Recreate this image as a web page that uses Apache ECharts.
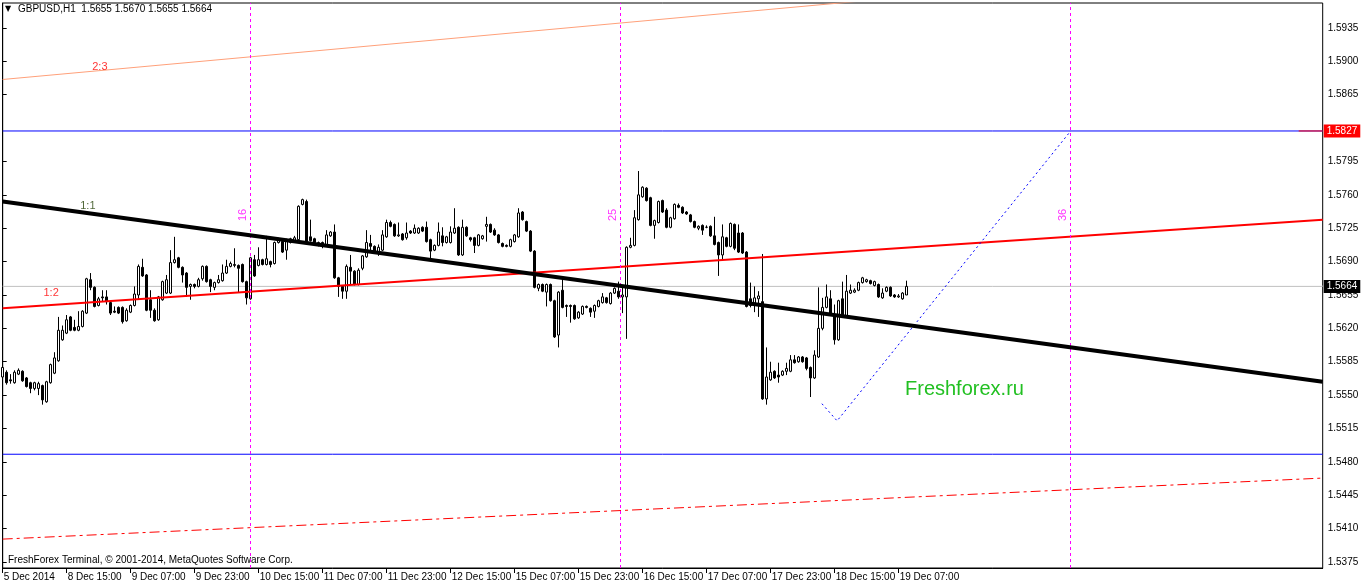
<!DOCTYPE html>
<html><head><meta charset="utf-8">
<script src="https://cdn.jsdelivr.net/npm/echarts@6/dist/echarts.min.js"></script>
<style>html,body{margin:0;padding:0;background:#fff;}#c{width:1362px;height:586px;}</style>
</head><body><div id="c"></div>
<script>
// ---------- DATA ----------
const symbolName = 'GBPUSD,H1';
const firstBar = '2014-12-05T23:00:00Z';
const totalSlots = 331;   // bars + empty future slots shown on the chart
// hourly candles [open, high, low, close]
const ohlc = [
[1.5569,1.5588,1.5568,1.5579],[1.5574,1.5576,1.5561,1.5563],[1.5566,1.5572,1.5562,1.5565],[1.5563,1.5576,1.5562,1.5574],
[1.5572,1.5578,1.5571,1.5576],[1.5575,1.5576,1.5564,1.5565],[1.5568,1.5569,1.5558,1.5559],[1.5563,1.5564,1.5552,1.5557],
[1.5557,1.5564,1.5555,1.5563],[1.5557,1.5564,1.5550,1.5562],[1.5560,1.5561,1.5540,1.5545],[1.5543,1.5565,1.5542,1.5564],
[1.5563,1.5583,1.5562,1.5582],[1.5573,1.5595,1.5572,1.5589],[1.5586,1.5632,1.5585,1.5618],[1.5608,1.5623,1.5607,1.5618],
[1.5615,1.5634,1.5614,1.5629],[1.5632,1.5633,1.5617,1.5618],[1.5621,1.5629,1.5617,1.5618],[1.5618,1.5638,1.5617,1.5622],
[1.5622,1.5639,1.5621,1.5638],[1.5636,1.5673,1.5635,1.5672],[1.5671,1.5678,1.5660,1.5663],[1.5663,1.5664,1.5642,1.5643],
[1.5644,1.5653,1.5643,1.5651],[1.5653,1.5660,1.5648,1.5652],[1.5653,1.5660,1.5645,1.5648],[1.5647,1.5649,1.5634,1.5636],
[1.5638,1.5643,1.5636,1.5637],[1.5642,1.5643,1.5635,1.5636],[1.5642,1.5643,1.5625,1.5627],[1.5628,1.5641,1.5627,1.5639],
[1.5637,1.5645,1.5636,1.5644],[1.5644,1.5664,1.5643,1.5656],[1.5655,1.5687,1.5650,1.5685],[1.5684,1.5693,1.5674,1.5675],
[1.5676,1.5677,1.5638,1.5639],[1.5650,1.5660,1.5631,1.5639],[1.5639,1.5641,1.5627,1.5628],[1.5629,1.5654,1.5628,1.5653],
[1.5650,1.5670,1.5649,1.5669],[1.5657,1.5676,1.5656,1.5671],[1.5657,1.5702,1.5656,1.5689],[1.5689,1.5716,1.5688,1.5692],
[1.5694,1.5695,1.5683,1.5684],[1.5684,1.5685,1.5668,1.5676],[1.5678,1.5679,1.5653,1.5663],[1.5664,1.5667,1.5650,1.5666],
[1.5666,1.5667,1.5662,1.5664],[1.5664,1.5673,1.5663,1.5671],[1.5672,1.5686,1.5670,1.5685],[1.5685,1.5686,1.5668,1.5669],
[1.5671,1.5672,1.5658,1.5664],[1.5663,1.5669,1.5660,1.5668],[1.5668,1.5676,1.5667,1.5671],[1.5670,1.5687,1.5669,1.5678],
[1.5678,1.5692,1.5677,1.5685],[1.5685,1.5690,1.5684,1.5688],[1.5686,1.5704,1.5684,1.5687],[1.5686,1.5687,1.5658,1.5683],
[1.5687,1.5688,1.5668,1.5669],[1.5669,1.5670,1.5645,1.5652],[1.5651,1.5695,1.5650,1.5694],[1.5692,1.5697,1.5674,1.5675],
[1.5686,1.5705,1.5685,1.5692],[1.5692,1.5693,1.5686,1.5687],[1.5687,1.5717,1.5686,1.5693],[1.5690,1.5691,1.5684,1.5687],
[1.5688,1.5711,1.5687,1.5710],[1.5710,1.5715,1.5709,1.5713],[1.5711,1.5713,1.5699,1.5700],[1.5702,1.5714,1.5692,1.5713],
[1.5710,1.5715,1.5709,1.5714],[1.5712,1.5717,1.5711,1.5715],[1.5713,1.5749,1.5712,1.5748],[1.5750,1.5756,1.5749,1.5755],
[1.5753,1.5755,1.5710,1.5711],[1.5716,1.5734,1.5711,1.5712],[1.5714,1.5715,1.5709,1.5710],[1.5707,1.5711,1.5706,1.5710],
[1.5710,1.5711,1.5704,1.5706],[1.5707,1.5723,1.5706,1.5718],[1.5717,1.5722,1.5716,1.5721],[1.5721,1.5729,1.5672,1.5673],
[1.5673,1.5674,1.5653,1.5664],[1.5664,1.5665,1.5651,1.5659],[1.5659,1.5687,1.5651,1.5685],[1.5684,1.5697,1.5666,1.5680],
[1.5680,1.5681,1.5665,1.5666],[1.5666,1.5683,1.5665,1.5681],[1.5683,1.5697,1.5681,1.5696],[1.5695,1.5723,1.5694,1.5710],
[1.5709,1.5718,1.5700,1.5706],[1.5706,1.5707,1.5699,1.5700],[1.5699,1.5708,1.5696,1.5705],[1.5702,1.5723,1.5701,1.5718],
[1.5716,1.5734,1.5715,1.5731],[1.5731,1.5733,1.5726,1.5727],[1.5729,1.5730,1.5716,1.5717],[1.5717,1.5731,1.5716,1.5718],
[1.5719,1.5720,1.5712,1.5713],[1.5715,1.5731,1.5713,1.5720],[1.5722,1.5723,1.5719,1.5720],[1.5720,1.5729,1.5719,1.5725],
[1.5720,1.5726,1.5719,1.5725],[1.5726,1.5727,1.5721,1.5722],[1.5726,1.5732,1.5710,1.5711],[1.5713,1.5714,1.5693,1.5701],
[1.5702,1.5708,1.5701,1.5707],[1.5707,1.5731,1.5706,1.5721],[1.5717,1.5726,1.5706,1.5710],[1.5710,1.5717,1.5709,1.5716],
[1.5710,1.5727,1.5709,1.5721],[1.5720,1.5746,1.5719,1.5725],[1.5726,1.5727,1.5696,1.5697],[1.5697,1.5734,1.5696,1.5726],
[1.5726,1.5727,1.5716,1.5717],[1.5715,1.5716,1.5711,1.5713],[1.5715,1.5716,1.5699,1.5707],[1.5707,1.5719,1.5706,1.5718],
[1.5714,1.5718,1.5713,1.5717],[1.5727,1.5737,1.5711,1.5729],[1.5729,1.5730,1.5720,1.5721],[1.5723,1.5725,1.5717,1.5718],
[1.5718,1.5719,1.5709,1.5710],[1.5709,1.5710,1.5705,1.5706],[1.5707,1.5708,1.5705,1.5706],[1.5706,1.5714,1.5705,1.5713],
[1.5711,1.5719,1.5710,1.5718],[1.5716,1.5746,1.5715,1.5741],[1.5742,1.5743,1.5733,1.5734],[1.5732,1.5733,1.5721,1.5722],
[1.5722,1.5723,1.5700,1.5701],[1.5701,1.5702,1.5662,1.5663],[1.5662,1.5667,1.5659,1.5666],[1.5666,1.5667,1.5658,1.5659],
[1.5658,1.5667,1.5643,1.5666],[1.5666,1.5667,1.5648,1.5649],[1.5649,1.5650,1.5610,1.5611],[1.5613,1.5659,1.5600,1.5658],
[1.5660,1.5673,1.5641,1.5642],[1.5644,1.5645,1.5632,1.5643],[1.5644,1.5645,1.5626,1.5643],[1.5644,1.5645,1.5629,1.5630],
[1.5631,1.5638,1.5630,1.5637],[1.5635,1.5644,1.5634,1.5643],[1.5643,1.5644,1.5641,1.5642],[1.5641,1.5642,1.5632,1.5637],
[1.5638,1.5645,1.5631,1.5644],[1.5643,1.5650,1.5642,1.5649],[1.5647,1.5657,1.5646,1.5653],[1.5652,1.5653,1.5646,1.5647],
[1.5646,1.5658,1.5645,1.5657],[1.5657,1.5663,1.5656,1.5662],[1.5659,1.5669,1.5651,1.5653],[1.5653,1.5664,1.5636,1.5655],
[1.5653,1.5706,1.5609,1.5705],[1.5705,1.5715,1.5704,1.5707],[1.5707,1.5744,1.5706,1.5736],[1.5734,1.5785,1.5733,1.5760],
[1.5758,1.5769,1.5757,1.5768],[1.5767,1.5768,1.5753,1.5754],[1.5757,1.5758,1.5727,1.5728],[1.5728,1.5734,1.5714,1.5733],
[1.5731,1.5754,1.5730,1.5753],[1.5754,1.5755,1.5741,1.5742],[1.5744,1.5746,1.5725,1.5726],[1.5726,1.5737,1.5725,1.5736],
[1.5735,1.5751,1.5734,1.5750],[1.5749,1.5751,1.5746,1.5747],[1.5747,1.5748,1.5740,1.5741],[1.5742,1.5743,1.5739,1.5740],
[1.5739,1.5740,1.5731,1.5732],[1.5732,1.5733,1.5725,1.5726],[1.5725,1.5728,1.5723,1.5727],[1.5728,1.5729,1.5718,1.5723],
[1.5726,1.5728,1.5725,1.5726],[1.5727,1.5728,1.5716,1.5717],[1.5717,1.5737,1.5707,1.5708],[1.5710,1.5711,1.5675,1.5697],
[1.5697,1.5729,1.5692,1.5716],[1.5715,1.5716,1.5705,1.5706],[1.5706,1.5731,1.5705,1.5730],[1.5729,1.5730,1.5702,1.5704],
[1.5720,1.5729,1.5699,1.5700],[1.5720,1.5721,1.5698,1.5699],[1.5700,1.5701,1.5642,1.5643],[1.5651,1.5668,1.5642,1.5644],
[1.5645,1.5664,1.5637,1.5652],[1.5651,1.5659,1.5632,1.5654],[1.5648,1.5698,1.5545,1.5546],[1.5546,1.5600,1.5540,1.5569],
[1.5566,1.5585,1.5565,1.5574],[1.5575,1.5576,1.5567,1.5568],[1.5571,1.5584,1.5563,1.5569],[1.5571,1.5576,1.5570,1.5575],
[1.5575,1.5584,1.5571,1.5578],[1.5575,1.5592,1.5574,1.5587],[1.5587,1.5592,1.5583,1.5584],[1.5585,1.5591,1.5584,1.5590],
[1.5590,1.5591,1.5584,1.5585],[1.5589,1.5590,1.5576,1.5578],[1.5579,1.5580,1.5548,1.5568],[1.5568,1.5597,1.5567,1.5592],
[1.5590,1.5663,1.5589,1.5620],[1.5620,1.5652,1.5618,1.5642],[1.5642,1.5666,1.5641,1.5653],[1.5651,1.5660,1.5633,1.5634],
[1.5634,1.5645,1.5603,1.5608],[1.5608,1.5650,1.5607,1.5649],[1.5651,1.5669,1.5631,1.5632],[1.5632,1.5676,1.5631,1.5659],
[1.5657,1.5666,1.5656,1.5660],[1.5658,1.5662,1.5657,1.5660],[1.5660,1.5669,1.5659,1.5668],[1.5668,1.5674,1.5667,1.5673],
[1.5669,1.5672,1.5668,1.5671],[1.5670,1.5671,1.5666,1.5667],[1.5665,1.5670,1.5664,1.5669],[1.5666,1.5667,1.5652,1.5653],
[1.5652,1.5662,1.5651,1.5657],[1.5659,1.5664,1.5658,1.5663],[1.5663,1.5664,1.5653,1.5654],[1.5655,1.5656,1.5652,1.5653],
[1.5653,1.5656,1.5652,1.5654],[1.5651,1.5658,1.5650,1.5657],[1.5655,1.5670,1.5655,1.5664]
];
const priceTicks = [1.5375,1.5410,1.5445,1.5480,1.5515,1.5550,1.5585,1.5620,1.5655,1.5690,1.5725,1.5760,1.5795,1.5865,1.5900,1.5935];
const priceMin = 1.53687, priceMax = 1.59612;
const bidPrice = 1.5664;
const resistance = 1.5827;
const resistanceMarkFrom = 324;   // bar slot where the red price-marker segment begins
const support = 1.5488;
// trend lines: [bar index, price]
const fan11 = [[0, 1.5753], [330, 1.5564]];
const fan12 = [[0, 1.5641], [330, 1.5734]];
const fan23 = [[0, 1.5881], [240, 1.5973]];
const channelLow = [[0, 1.5399], [330, 1.5463]];
const projection = [[204.8, 1.5541], [208.6, 1.5523], [267, 1.5827]];
const cycleLines = [[62, '16'], [154.5, '25'], [267, '36']];
const cycleLabelPrice = 1.5739;
const fanLabels = [['2:3', 24.3, 1.5894], ['1:1', 21.3, 1.5748], ['1:2', 12.1, 1.5657]];

// ---------- BUILD ----------
const MON = ['Jan','Feb','Mar','Apr','May','Jun','Jul','Aug','Sep','Oct','Nov','Dec'];
const times = [];
{
  let t = Date.parse(firstBar);
  while (times.length < totalSlots) {
    const d = new Date(t);
    const wd = d.getUTCDay();
    if (wd !== 0 && wd !== 6) {
      const hh = String(d.getUTCHours()).padStart(2, '0');
      times.push(times.length === 0 ? `${d.getUTCDate()} ${MON[d.getUTCMonth()]} ${d.getUTCFullYear()}`
                                    : `${d.getUTCDate()} ${MON[d.getUTCMonth()]} ${hh}:00`);
    }
    t += 3600000;
  }
}
const lastBar = ohlc.length - 1;
const lastSlot = totalSlots - 1;
const showTick = (i) => i % 16 === 0 && i <= lastBar;
const last = ohlc[lastBar];
const font = 'Liberation Sans';
const fanColors = {'2:3': '#ff0000', '1:1': '#1f3d00', '1:2': '#ff0000'};
const hLine = (price, from, color, z, labelBg) => ({
  type: 'line', xAxisIndex: 1, z, silent: true, symbol: 'none',
  data: [[from, price], [lastSlot, price]],
  lineStyle: {color, width: 1},
  endLabel: labelBg ? {show: true, formatter: price.toFixed(4), color: '#fff', backgroundColor: labelBg,
    padding: [2, 3, 1, 3], fontSize: 10, fontFamily: font, distance: 1} : {show: false}
});

const chart = echarts.init(document.getElementById('c'), null, {renderer: 'canvas'});
chart.setOption({
  animation: false,
  backgroundColor: '#ffffff',
  grid: {left: 2.7, right: 39.3, top: 3, bottom: 18, show: true, borderColor: '#000', borderWidth: 1, backgroundColor: '#fff'},
  xAxis: [{
    type: 'category', data: times, boundaryGap: false,
    axisLine: {show: true, lineStyle: {color: '#000', width: 1}},
    axisTick: {show: true, interval: showTick, length: 5, lineStyle: {color: '#000'}},
    axisLabel: {interval: showTick, align: 'left', margin: 4, padding: [0, 0, 0, 1], color: '#000', fontSize: 10, fontFamily: font},
    splitLine: {show: false}
  }, {
    type: 'value', min: 0, max: lastSlot, show: false
  }],
  yAxis: {
    type: 'value', position: 'right', min: priceMin, max: priceMax,
    axisLine: {show: true, lineStyle: {color: '#000'}},
    axisTick: {show: true, customValues: priceTicks, length: 4, lineStyle: {color: '#000'}},
    axisLabel: {customValues: priceTicks, formatter: v => v.toFixed(4), color: '#000', fontSize: 10, fontFamily: font, margin: 5},
    splitLine: {show: false}
  },
  series: [
    hLine(bidPrice, 0, '#c0c0c0', 1, '#000000'),
    hLine(resistance, 0, '#0000ff', 4, null),
    hLine(resistance, resistanceMarkFrom, '#ff0000', 4, '#ff0000'),
    hLine(support, 0, '#0000ff', 4, null),
    {
      type: 'candlestick', xAxisIndex: 0, barWidth: 3, z: 2,
      data: ohlc.map(([o, h, l, c]) => [o, c, l, h]),
      itemStyle: {color: '#ffffff', color0: '#000000', borderColor: '#000000', borderColor0: '#000000', borderWidth: 1},
      emphasis: {disabled: true}
    },
    { // cycle verticals
      type: 'line', xAxisIndex: 1, z: 3, silent: true, symbol: 'none',
      data: [[0, priceMin], [lastSlot, priceMin]], lineStyle: {opacity: 0},
      markLine: {
        symbol: 'none', silent: true, animation: false, label: {show: false},
        lineStyle: {color: '#ff00ff', width: 1, type: [3, 3]},
        data: cycleLines.map(([x]) => ({xAxis: x}))
      }
    },
    {type: 'line', xAxisIndex: 1, data: fan23, symbol: 'none', z: 4, lineStyle: {color: '#ffa07a', width: 1}},
    {type: 'line', xAxisIndex: 1, data: fan12, symbol: 'none', z: 4, lineStyle: {color: '#ff0000', width: 2}},
    {type: 'line', xAxisIndex: 1, data: fan11, symbol: 'none', z: 5, lineStyle: {color: '#000000', width: 4}},
    {type: 'line', xAxisIndex: 1, data: channelLow, symbol: 'none', z: 4, lineStyle: {color: '#ff0000', width: 1, type: [10, 4, 3, 4]}},
    {type: 'line', xAxisIndex: 1, data: projection, symbol: 'none', z: 4, lineStyle: {color: '#0000ff', width: 1, type: [2, 3]}},
    {
      type: 'scatter', xAxisIndex: 1, z: 6, symbolSize: 1, itemStyle: {color: 'rgba(0,0,0,0)'}, silent: true,
      data: fanLabels.map(([t, x, y]) => ({value: [x, y], name: t,
        label: {show: true, position: 'inside', formatter: t, color: fanColors[t], fontSize: 11, fontFamily: font}}))
    },
    {
      type: 'scatter', xAxisIndex: 1, z: 6, symbolSize: 1, itemStyle: {color: 'rgba(0,0,0,0)'}, silent: true,
      data: cycleLines.map(([x, t]) => ({value: [x, cycleLabelPrice], name: t,
        label: {show: true, position: 'inside', offset: [0, -8], rotate: 90, formatter: t, color: '#ff00ff', fontSize: 11, fontFamily: font}}))
    }
  ],
  graphic: [
    {type: 'text', left: 5, top: 5, style: {text: '▼', fill: '#000', font: '8px DejaVu Sans'}},
    {type: 'text', left: 18, top: 4, style: {text: `${symbolName}  ${last.map(v => v.toFixed(4)).join(' ')}`, fill: '#000', font: '10px ' + font}},
    {type: 'text', left: 8, top: 555, style: {text: 'FreshForex Terminal, © 2001-2014, MetaQuotes Software Corp.', fill: '#000', font: '10px ' + font}},
    {type: 'text', left: 905, top: 379, style: {text: 'Freshforex.ru', fill: '#22c022', font: '20px ' + font}}
  ]
});
</script>
</body></html>
